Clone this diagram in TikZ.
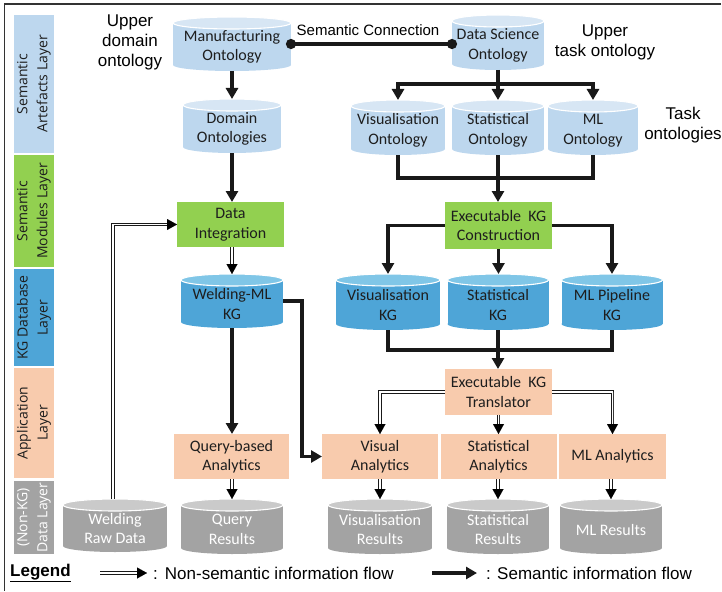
\documentclass[tikz,border=0pt]{standalone}
\usepackage{fontspec}
\usetikzlibrary{arrows.meta,calc}
\newfontfamily\boxfont{Carlito}
\newfontfamily\notefont{Liberation Sans}
\newfontfamily\layerfont{Open Sans}

\definecolor{ontobody}{HTML}{BDD7EE}
\definecolor{ontotop}{HTML}{D7E6F4}
\definecolor{kgbody}{HTML}{4EA5D7}
\definecolor{kgtop}{HTML}{80C6E7}
\definecolor{databody}{HTML}{A3A3A3}
\definecolor{datatop}{HTML}{CACACA}
\definecolor{modgreen}{HTML}{92D050}
\definecolor{apppeach}{HTML}{F8CBAD}
\definecolor{ink}{HTML}{1E1E1E}

\tikzset{
  drum/.style={rectangle, inner sep=0pt, outer sep=0pt},
  drumlabel/.style={font=\boxfont\fontsize{16}{19.5}\selectfont, align=center, inner sep=0pt},
  onto text/.style={text=ink},
  kg text/.style={text=ink},
  data text/.style={text=white},
  procbox/.style={rectangle, inner sep=0pt, outer sep=0pt, align=center, text=ink,
    font=\boxfont\fontsize{16}{19.5}\selectfont},
  modbox/.style={procbox, fill=modgreen},
  appbox/.style={procbox, fill=apppeach},
  layer/.style={rectangle, rotate=90, inner sep=0pt, minimum height=40pt, align=center,
    text=ink, font=\layerfont\fontsize{14}{20}\selectfont},
  note/.style={font=\notefont\fontsize{17}{20}\selectfont, align=center, inner sep=0pt},
  sem/.style={line width=3.2pt, draw=black!90, line join=miter,
    -{Triangle[length=11pt,width=12pt]}},
  semplain/.style={line width=3.2pt, draw=black!90, line join=miter},
  semconn/.style={line width=3.2pt, draw=black!90,
    {Circle[length=10pt]}-{Circle[length=10pt]}, shorten <=-5pt, shorten >=-5pt},
  % double line: black outer stroke, white core, solid head on top
  dbl/.style={draw=black!90, line width=3.6pt, line join=miter, shorten >=9pt,
    postaction={draw=white, line width=1.8pt, shorten >=9pt},
    postaction={draw=white, line width=0.01pt, shorten >=0pt,
      -{Triangle[length=10pt,width=11pt,black]}}},
}

% cylinder: name, centre x, top y, bottom y, width, colour set, text
\newcommand\drum[7]{%
  \pgfmathsetmacro\drumhw{#5/2}%
  \pgfmathsetmacro\drumh{#4-#3}%
  \pgfmathsetmacro\drumc{(#3+#4)/2}%
  \fill[#6body] ({#2-\drumhw},{#3+6}) rectangle ({#2+\drumhw},{#4-6});
  \fill[#6body] (#2,{#4-6}) ellipse[x radius=\drumhw pt, y radius=6pt];
  \filldraw[fill=#6top, draw=white, line width=1.1pt] (#2,{#3+6}) ellipse[x radius=\drumhw pt, y radius=6pt];
  \node[drum, minimum width=#5pt, minimum height=\drumh pt] (#1) at (#2,\drumc) {};
  \node[drumlabel, #6 text] (#1-label) at (#2,{\drumc+3}) {#7};
}

\begin{document}
\begin{tikzpicture}[x=1pt, y=-1pt]
\useasboundingbox (0,0) rectangle (722,591);

% frame
\draw[line width=1.2pt, black!80] (721,4) -- (4.5,4) -- (4.5,591);

% layer column
\node[layer, fill=ontobody, minimum width=138pt] (lay-art) at (34,84) {Semantic\\Artefacts Layer};
\node[layer, fill=modgreen, minimum width=112pt] (lay-mod) at (34,211) {Semantic\\Modules Layer};
\node[layer, fill=kgbody, minimum width=97pt] (lay-kg) at (34,317.5) {KG Database\\Layer};
\node[layer, fill=apppeach, minimum width=110pt] (lay-app) at (34,423) {Application\\Layer};
\node[layer, fill=databody, minimum width=73pt, text=white] (lay-data) at (34,517.5) {(Non-KG)\\Data Layer};

% ontologies
\drum{mfg}{232}{17}{71}{118}{onto}{Manufacturing\\Ontology}
\drum{dso}{498}{15}{70}{92}{onto}{Data Science\\Ontology}
\drum{dom}{232}{99}{153}{98}{onto}{Domain\\Ontologies}
\drum{viso}{398}{100}{155}{94}{onto}{Visualisation\\Ontology}
\drum{stato}{498}{100}{155}{92}{onto}{Statistical\\Ontology}
\drum{mlo}{593}{100}{155}{90}{onto}{ML\\Ontology}

% knowledge graphs
\drum{wkg}{232}{274}{328}{102}{kg}{Welding-ML\\KG}
\drum{vkg}{388}{274}{330}{104}{kg}{Visualisation\\KG}
\drum{skg}{498}{274}{330}{101}{kg}{Statistical\\KG}
\drum{mkg}{612}{274}{330}{101}{kg}{ML Pipeline\\KG}

% data stores
\drum{raw}{115}{499}{552}{104}{data}{Welding\\Raw Data}
\drum{qres}{232}{499}{554}{102}{data}{Query\\Results}
\drum{vres}{380}{499}{554}{104}{data}{Visualisation\\Results}
\drum{sres}{498}{499}{554}{102}{data}{Statistical\\Results}
\drum{mres}{611}{499}{554}{102}{data}{ML Results}

% modules
\node[modbox, minimum width=107pt, minimum height=45pt] (di) at (230.5,224.5) {Data\\Integration};
\node[modbox, minimum width=107pt, minimum height=47pt] (ekc) at (498.5,225.5) {Executable\ \ KG\\Construction};

% applications
\node[appbox, minimum width=107pt, minimum height=46pt] (ekt) at (498.5,392) {Executable\ \ KG\\Translator};
\node[appbox, minimum width=115pt, minimum height=45pt] (qa) at (231.5,456.5) {Query-based\\Analytics};
\node[appbox, minimum width=116pt, minimum height=45pt] (va) at (380,456.5) {Visual\\Analytics};
\node[appbox, minimum width=116pt, minimum height=45pt] (sa) at (498.5,456.5) {Statistical\\Analytics};
\node[appbox, minimum width=107pt, minimum height=45pt] (ma) at (612.5,456.5) {ML Analytics};

% annotations
\node[note] (n-upd) at (130,42) {Upper\\domain\\ontology};
\node[note] (n-upt) at (605,42) {Upper\\task ontology};
\node[note] (n-task) at (683,125) {Task\\ontologies};
\node[note, font=\notefont\fontsize{15}{18}\selectfont] (n-conn) at (368,30) {Semantic Connection};

% junction points
\coordinate (tb) at (498,84);
\coordinate (tj) at (498,178);
\coordinate (kj) at (498,350);
\coordinate (wbend) at (302,301);

% semantic flow
\draw[semconn] (mfg.east) -- (mfg.east -| dso.west);
\draw[sem] (mfg.south) -- (dom.north);
\draw[sem] (dom.south) -- (dom.south |- di.north);
\draw[sem] (dso.south) -- (stato.north);
\draw[sem] (tb) -| (viso.north);
\draw[sem] (tb) -| (mlo.north);
\draw[semplain] (viso.south) |- (tj);
\draw[semplain] (mlo.south) |- (tj);
\draw[sem] (stato.south) -- (stato.south |- ekc.north);
\draw[sem] (ekc.west) -| (vkg.north);
\draw[sem] (ekc.east) -| (mkg.north);
\draw[sem] (ekc.south) -- (ekc.south |- skg.north);
\draw[semplain] (vkg.south) |- (kj);
\draw[semplain] (mkg.south) |- (kj);
\draw[sem] (skg.south) -- (skg.south |- ekt.north);
\draw[sem] (wkg.south) -- (wkg.south |- qa.north);
\draw[sem] (wkg.east) -- (wbend) |- (va.west);

% non-semantic flow
\draw[dbl] ([xshift=-2pt]raw.north) |- (di.west);
\draw[dbl] (di.south -| wkg.north) -- (wkg.north);
\draw[dbl] (ekt.west) -| (va.north);
\draw[dbl] (ekt.south) -- (ekt.south |- sa.north);
\draw[dbl] (ekt.east) -| (ma.north);
\draw[dbl] (qa.south -| qres.north) -- (qres.north);
\draw[dbl] (va.south) -- (vres.north);
\draw[dbl] (sa.south -| sres.north) -- (sres.north);
\draw[dbl] (ma.south -| mres.north) -- (mres.north);

% legend
\node[note, anchor=west, font=\notefont\bfseries\fontsize{17}{20}\selectfont] (leg) at (10,573) {\underline{Legend}};
\coordinate (l1a) at (100,573);
\coordinate (l1b) at (147,573);
\draw[dbl] (l1a) -- (l1b);
\node[note, anchor=west] (leg-ns) at (153,573) {:\hspace{7pt}Non-semantic information flow};
\coordinate (l2a) at (432,573);
\coordinate (l2b) at (477,573);
\draw[sem] (l2a) -- (l2b);
\node[note, anchor=west] (leg-s) at (486,573) {: Semantic information flow};
\end{tikzpicture}
\end{document}
